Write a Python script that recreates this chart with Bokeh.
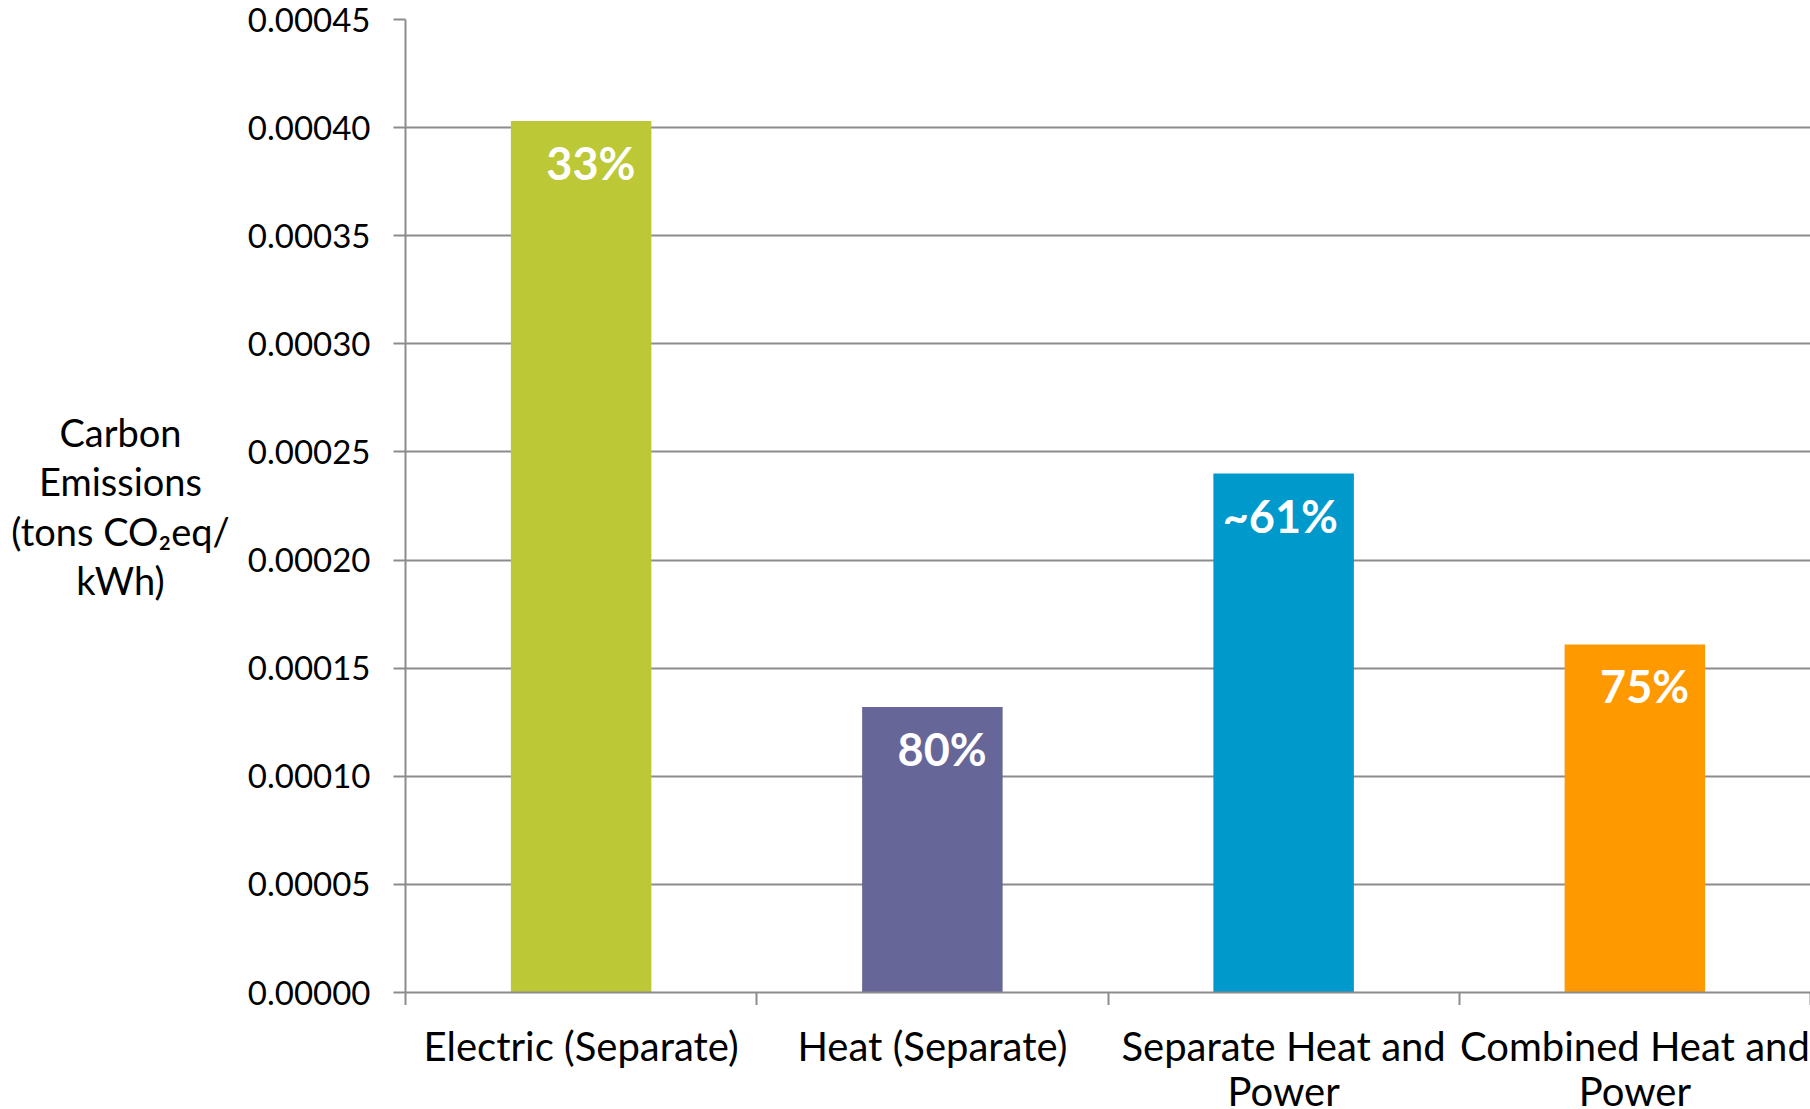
from bokeh.plotting import figure
from bokeh.layouts import column, row
from bokeh.models import Range1d, FixedTicker, ColumnDataSource, PrintfTickFormatter
from bokeh.core.properties import value
from bokeh.embed import file_html
from bokeh.resources import INLINE

# Emission intensity per generation scheme, with its overall efficiency
categories = [
    "Electric (Separate)",
    "Heat (Separate)",
    "Separate Heat and\nPower",
    "Combined Heat and\nPower",
]
emissions = [0.000403, 0.000132, 0.000240, 0.000161]
efficiency_labels = ["33%", "80%", "~61%", "75%"]
bar_colors = ["#BDC836", "#666699", "#0099CC", "#FF9900"]
y_ticks = [0.0, 0.00005, 0.00010, 0.00015, 0.00020, 0.00025,
           0.00030, 0.00035, 0.00040, 0.00045]
y_title = "Carbon\nEmissions\n(tons CO\u2082eq/\nkWh)"

FONT = "Lato"
GRID = "#8C8C8C"
BAR_W = 0.4

TOTAL_W, TOTAL_H = 1810, 1109
TITLE_W = 240          # strip holding the value-axis title
LABEL_H = 104          # strip holding the category names
TOP, TICK = 19, 13

centers = [i + 0.5 for i in range(len(categories))]
bounds = list(range(len(categories) + 1))

x_range = Range1d(0, len(categories))
y_range = Range1d(0, y_ticks[-1])

src = ColumnDataSource(dict(
    x=centers,
    top=emissions,
    color=bar_colors,
    label=efficiency_labels,
    right=[c + BAR_W / 2 for c in centers],
))


def bare(fig):
    fig.outline_line_color = None
    fig.background_fill_color = "white"
    fig.border_fill_color = "white"
    fig.xgrid.visible = False
    fig.ygrid.visible = False
    return fig


# ---- main bar chart ----
p = figure(
    width=TOTAL_W - TITLE_W, height=TOTAL_H - LABEL_H,
    x_range=x_range, y_range=y_range,
    output_backend="svg", toolbar_location=None,
    min_border_left=405 - TITLE_W, min_border_right=0,
    min_border_top=TOP, min_border_bottom=TICK,
)
p.outline_line_color = None
p.background_fill_color = "white"
p.border_fill_color = "white"

p.vbar(x="x", top="top", width=BAR_W, fill_color="color", line_color=None, source=src)
p.text(x="right", y="top", text="label", source=src,
       text_align="right", text_baseline="alphabetic",
       x_offset=-16, y_offset=42,
       text_color="white", text_font=value(FONT),
       text_font_style="bold", text_font_size="45px")

p.xgrid.visible = False
p.ygrid.ticker = FixedTicker(ticks=y_ticks)
p.ygrid.grid_line_color = GRID
p.ygrid.grid_line_width = 2

yax = p.yaxis[0]
yax.ticker = FixedTicker(ticks=y_ticks)
yax.formatter = PrintfTickFormatter(format="%.5f")
yax.axis_line_color = GRID
yax.axis_line_width = 2
yax.major_tick_line_color = GRID
yax.major_tick_line_width = 2
yax.major_tick_out = 12
yax.major_tick_in = 0
yax.minor_tick_line_color = None
yax.major_label_standoff = 23
yax.major_label_text_font = FONT
yax.major_label_text_font_size = "33px"
yax.major_label_text_color = "black"

# category axis: ticks on the category boundaries only
xax = p.xaxis[0]
xax.ticker = FixedTicker(ticks=[], minor_ticks=bounds)
xax.axis_line_color = GRID
xax.axis_line_width = 2
xax.major_tick_out = 0
xax.major_tick_in = 0
xax.minor_tick_out = TICK
xax.minor_tick_in = 0
xax.minor_tick_line_color = GRID
xax.minor_tick_line_width = 2
xax.major_label_standoff = 0

# ---- value-axis title, centred beside the tick labels ----
t = bare(figure(
    width=TITLE_W, height=TOTAL_H - LABEL_H,
    x_range=Range1d(0, 1), y_range=y_range,
    output_backend="svg", toolbar_location=None,
    min_border_left=0, min_border_right=0,
    min_border_top=TOP, min_border_bottom=TICK,
))
t.axis.visible = False
t.text(x=[0.5], y=[y_ticks[-1] / 2], text=[y_title],
       text_align="center", text_baseline="middle",
       text_font=value(FONT), text_font_size="38px", text_color="black",
       text_line_height=1.07)

# ---- category names under each bar ----
c = bare(figure(
    width=TOTAL_W, height=LABEL_H,
    x_range=x_range, y_range=Range1d(0, 1),
    output_backend="svg", toolbar_location=None,
    min_border_left=405, min_border_right=0,
    min_border_top=0, min_border_bottom=0,
))
c.axis.visible = False
c.text(x=centers, y=[1.0] * len(centers), text=categories,
       text_align="center", text_baseline="top", y_offset=16,
       text_font=value(FONT), text_font_size="40px", text_color="black",
       text_line_height=0.95)

layout = column(row(t, p, spacing=0), c, spacing=0)
open("out.html", "w").write(file_html(layout, INLINE))
